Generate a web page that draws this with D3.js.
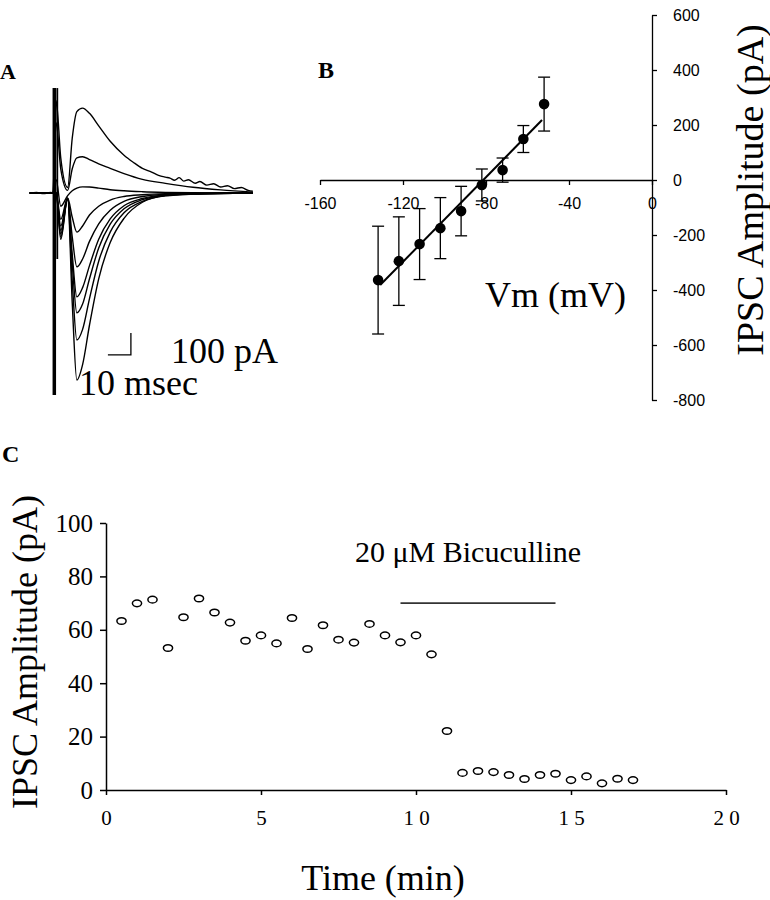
<!DOCTYPE html>
<html>
<head>
<meta charset="utf-8">
<script src="https://cdn.jsdelivr.net/npm/d3@7"></script>
<style>
  html, body { margin: 0; padding: 0; background: #fff; }
  svg { display: block; }
  .serif { font-family: "Liberation Serif", "Times New Roman", serif; }
  .sans { font-family: "Liberation Sans", Arial, sans-serif; }
</style>
</head>
<body>
<svg id="chart" width="770" height="900"></svg>
<script>
// ---------------- DATA ----------------
// Panel A: example IPSC traces (time in ms, current in pA)
const traceLargeOut = [[-11,0],[-8,3],[-5,-3],[-2,2],[-0.5,0],[0.5,420],[2.5,160],[5.5,25],[7.5,250],[9.5,370],[12,386],[15,362],[19,305],[24,235],[30,172],[34,140],[38,112],[42,95],[45,80],[48,72],[50,68],[52,58],[54,70],[56,54],[58,60],[61,44],[63,52],[66,36],[69,42],[72,27],[75,33],[78,20],[81,25],[84,12],[86,8]];
const traceMidOut   = [[-11,0],[-1,0],[0.5,320],[2.5,110],[5.5,12],[7.5,110],[9.5,160],[12,165],[15,152],[19,132],[24,112],[30,88],[38,62],[48,44],[60,26],[72,14],[86,4]];
const traceNearRev  = [[-11,0],[-1,0],[0.5,60],[2.5,-60],[5.5,-12],[7.5,10],[9.5,22],[12,28],[15,27],[19,22],[24,15],[30,10],[38,6],[48,3],[60,1],[86,0]];
const traceIn1 = [[-11,0],[-1,0],[0.5,0],[2.5,-120],[5.5,-22],[7.5,-110],[9.5,-178],[12,-150],[15,-100],[19,-60],[24,-32],[30,-16],[38,-8],[48,-3],[60,-1],[86,0]];
const traceIn2 = [[-11,0],[-1,0],[0.5,0],[2.5,-150],[5.5,-24],[7.5,-200],[9.5,-336],[12,-300],[15,-220],[19,-140],[24,-78],[30,-38],[38,-16],[48,-6],[60,-2],[86,0]];
const traceIn3 = [[-11,0],[-1,0],[0.5,0],[2.5,-170],[5.5,-25],[7.5,-280],[9.5,-472],[12,-430],[15,-330],[19,-210],[24,-118],[30,-58],[38,-25],[48,-9],[60,-3],[86,0]];
const traceIn4 = [[-11,0],[-1,0],[0.5,0],[2.5,-185],[5.5,-25],[7.5,-320],[9.5,-545],[12,-505],[15,-390],[19,-250],[24,-142],[30,-72],[38,-30],[48,-11],[60,-4],[86,0]];
const traceIn5 = [[-11,0],[-1,0],[0.5,0],[2.5,-200],[5.5,-25],[7.5,-400],[9.5,-668],[12,-620],[15,-480],[19,-310],[24,-178],[30,-90],[38,-38],[48,-13],[60,-5],[86,0]];
const traceIn6 = [[-11,0],[-1,0],[0.5,0],[2.5,-210],[5.5,-25],[7.5,-500],[9.5,-850],[12,-780],[15,-600],[19,-390],[24,-225],[30,-115],[38,-42],[48,-12],[60,-5],[86,0]];
const traces = [traceLargeOut, traceMidOut, traceNearRev, traceIn1, traceIn2, traceIn3, traceIn4, traceIn5, traceIn6];
const artifactRange = [477, -918];      // pA span of stimulus artifact at t = 0
const scaleBarMs = 10, scaleBarPA = 100;
const scaleBarCorner = [33, -736];      // [ms, pA]

// Panel B: I-V relation
const ivVm   = [-132, -122, -112, -102, -92, -82, -72, -62, -52];
const ivMean = [-364, -295, -233, -175, -113, -18, 36, 149, 276];
const ivSem  = [196, 161, 129, 111, 90, 58, 44, 49, 98];
const fitVm  = [-131, -53];
const fitI   = [-382, 218];
const ivXTicks = [-160, -120, -80, -40, 0];
const ivYTicks = [600, 400, 200, 0, -200, -400, -600, -800];

// Panel C: time course
const timeMin = [0.5,1,1.5,2,2.5,3,3.5,4,4.5,5,5.5,6,6.5,7,7.5,8,8.5,9,9.5,10,10.5,11,11.5,12,12.5,13,13.5,14,14.5,15,15.5,16,16.5,17];
const ampPA   = [63.3,69.9,71.3,53.2,64.7,71.7,66.5,62.7,55.9,57.9,54.9,64.4,52.8,61.7,56.3,55.2,62.2,57.9,55.3,57.9,50.8,22.1,6.4,7.1,6.7,5.6,4.1,5.6,6.1,3.7,5.1,2.5,4.2,3.7];
const tcXTicks = [0, 5, 10, 15, 20];
const tcXTickLabels = ["0", "5", "1 0", "1 5", "2 0"];
const tcYTicks = [0, 20, 40, 60, 80, 100];
const drugStart = 9.5, drugEnd = 14.5, drugLevel = 70;
const drugLabel = "20 \u03BCM Bicuculline";

// ---------------- DRAW ----------------
const svg = d3.select("#chart");
const hyphen = d => String(d);   // plain hyphen-minus like the original

// ===== Panel A =====
const ax = d3.scaleLinear().domain([0, 10]).range([55, 78]);
const ay = d3.scaleLinear().domain([0, 100]).range([193, 171]);
const gA = svg.append("g");
const lineA = d3.line().x(d => ax(d[0])).y(d => ay(d[1])).curve(d3.curveMonotoneX);
gA.selectAll("path.trace").data(traces).join("path")
  .attr("class", "trace")
  .attr("d", lineA)
  .attr("fill", "none").attr("stroke", "#000").attr("stroke-width", 1.4);
// stimulus artifact
gA.append("line")
  .attr("x1", ax(-0.3)).attr("x2", ax(-0.3))
  .attr("y1", ay(artifactRange[0])).attr("y2", ay(artifactRange[1]))
  .attr("stroke", "#000").attr("stroke-width", 3.5);
gA.append("line")
  .attr("x1", ax(1.0)).attr("x2", ax(1.0))
  .attr("y1", ay(artifactRange[0])).attr("y2", ay(-300))
  .attr("stroke", "#000").attr("stroke-width", 1.8);
// scale bar
gA.append("path")
  .attr("d", `M${ax(scaleBarCorner[0] - scaleBarMs)},${ay(scaleBarCorner[1])}H${ax(scaleBarCorner[0])}V${ay(scaleBarCorner[1] + scaleBarPA)}`)
  .attr("fill", "none").attr("stroke", "#000").attr("stroke-width", 1.3);
gA.append("text").attr("class", "serif").attr("x", 171).attr("y", 363)
  .attr("font-size", 36).text(scaleBarPA + " pA");
gA.append("text").attr("class", "serif").attr("x", 79).attr("y", 395)
  .attr("font-size", 36).text(scaleBarMs + " msec");
svg.append("text").attr("class", "serif").attr("x", 0).attr("y", 79)
  .attr("font-size", 22).attr("font-weight", "bold").text("A");

// ===== Panel B =====
const bx = d3.scaleLinear().domain([-160, 0]).range([320, 652]);
const by = d3.scaleLinear().domain([-800, 600]).range([400, 15]);
const gB = svg.append("g");
const xAxisB = d3.axisBottom(bx).tickValues(ivXTicks).tickFormat(hyphen).tickSize(5).tickSizeOuter(0).tickPadding(13);
gB.append("g").attr("transform", `translate(0,${by(0)})`).call(xAxisB)
  .call(g => g.selectAll("text").attr("class", "sans").attr("font-size", 16).attr("fill", "#000"))
  .call(g => g.selectAll("line, path").attr("stroke", "#000").attr("stroke-width", 1.3));
const yAxisB = d3.axisRight(by).tickValues(ivYTicks).tickFormat(hyphen).tickSize(5).tickSizeOuter(0).tickPadding(16);
gB.append("g").attr("transform", `translate(${bx(0)},0)`).call(yAxisB)
  .call(g => g.selectAll("text").attr("class", "sans").attr("font-size", 16).attr("fill", "#000"))
  .call(g => g.selectAll("line, path").attr("stroke", "#000").attr("stroke-width", 1.3));
// fit line
gB.append("line")
  .attr("x1", bx(fitVm[0])).attr("y1", by(fitI[0]))
  .attr("x2", bx(fitVm[1])).attr("y2", by(fitI[1]))
  .attr("stroke", "#000").attr("stroke-width", 2);
// error bars
const ivData = ivVm.map((v, i) => ({ v, m: ivMean[i], e: ivSem[i] }));
const eb = gB.selectAll("g.eb").data(ivData).join("g").attr("class", "eb");
eb.append("line").attr("x1", d => bx(d.v)).attr("x2", d => bx(d.v))
  .attr("y1", d => by(d.m + d.e)).attr("y2", d => by(d.m - d.e))
  .attr("stroke", "#000").attr("stroke-width", 1.3);
eb.append("line").attr("x1", d => bx(d.v) - 6).attr("x2", d => bx(d.v) + 6)
  .attr("y1", d => by(d.m + d.e)).attr("y2", d => by(d.m + d.e))
  .attr("stroke", "#000").attr("stroke-width", 1.3);
eb.append("line").attr("x1", d => bx(d.v) - 6).attr("x2", d => bx(d.v) + 6)
  .attr("y1", d => by(d.m - d.e)).attr("y2", d => by(d.m - d.e))
  .attr("stroke", "#000").attr("stroke-width", 1.3);
gB.selectAll("circle.pt").data(ivData).join("circle").attr("class", "pt")
  .attr("cx", d => bx(d.v)).attr("cy", d => by(d.m)).attr("r", 5.3).attr("fill", "#000");
gB.append("text").attr("class", "serif").attr("x", 485).attr("y", 307)
  .attr("font-size", 36).text("Vm (mV)");
gB.append("text").attr("class", "serif")
  .attr("transform", `translate(763,190) rotate(-90)`)
  .attr("text-anchor", "middle").attr("font-size", 38).text("IPSC Amplitude (pA)");
svg.append("text").attr("class", "serif").attr("x", 318).attr("y", 78)
  .attr("font-size", 24).attr("font-weight", "bold").text("B");

// ===== Panel C =====
const cx = d3.scaleLinear().domain([0, 20]).range([106, 726]);
const cy = d3.scaleLinear().domain([0, 100]).range([790, 523]);
const gC = svg.append("g");
const xAxisC = d3.axisBottom(cx).tickValues(tcXTicks).tickFormat((d, i) => tcXTickLabels[i])
  .tickSize(5).tickSizeOuter(0).tickPadding(15);
gC.append("g").attr("transform", `translate(0,${cy(0)})`).call(xAxisC)
  .call(g => g.selectAll("text").attr("class", "serif").attr("font-size", 21).attr("fill", "#000"))
  .call(g => g.selectAll("line, path").attr("stroke", "#000").attr("stroke-width", 1.5));
const yAxisC = d3.axisLeft(cy).tickValues(tcYTicks).tickSize(6).tickSizeOuter(0).tickPadding(7);
gC.append("g").attr("transform", `translate(${cx(0)},0)`).call(yAxisC)
  .call(g => g.selectAll("text").attr("class", "serif").attr("font-size", 25).attr("fill", "#000"))
  .call(g => g.selectAll("line, path").attr("stroke", "#000").attr("stroke-width", 1.5));
// drug bar
gC.append("line").attr("x1", cx(drugStart)).attr("x2", cx(drugEnd))
  .attr("y1", cy(drugLevel)).attr("y2", cy(drugLevel))
  .attr("stroke", "#333").attr("stroke-width", 1.8);
gC.append("text").attr("class", "serif").attr("x", 355).attr("y", 562)
  .attr("font-size", 30).text(drugLabel);
// points
const tcData = timeMin.map((t, i) => ({ t, a: ampPA[i] }));
gC.selectAll("ellipse.pt").data(tcData).join("ellipse").attr("class", "pt")
  .attr("cx", d => cx(d.t)).attr("cy", d => cy(d.a)).attr("rx", 4.6).attr("ry", 3.3)
  .attr("fill", "#fff").attr("stroke", "#000").attr("stroke-width", 1.5);
gC.append("text").attr("class", "serif")
  .attr("transform", `translate(37,652) rotate(-90)`)
  .attr("text-anchor", "middle").attr("font-size", 36).text("IPSC Amplitude (pA)");
gC.append("text").attr("class", "serif").attr("x", 383).attr("y", 890)
  .attr("text-anchor", "middle").attr("font-size", 36).text("Time (min)");
svg.append("text").attr("class", "serif").attr("x", 2).attr("y", 462)
  .attr("font-size", 24).attr("font-weight", "bold").text("C");
</script>
</body>
</html>
